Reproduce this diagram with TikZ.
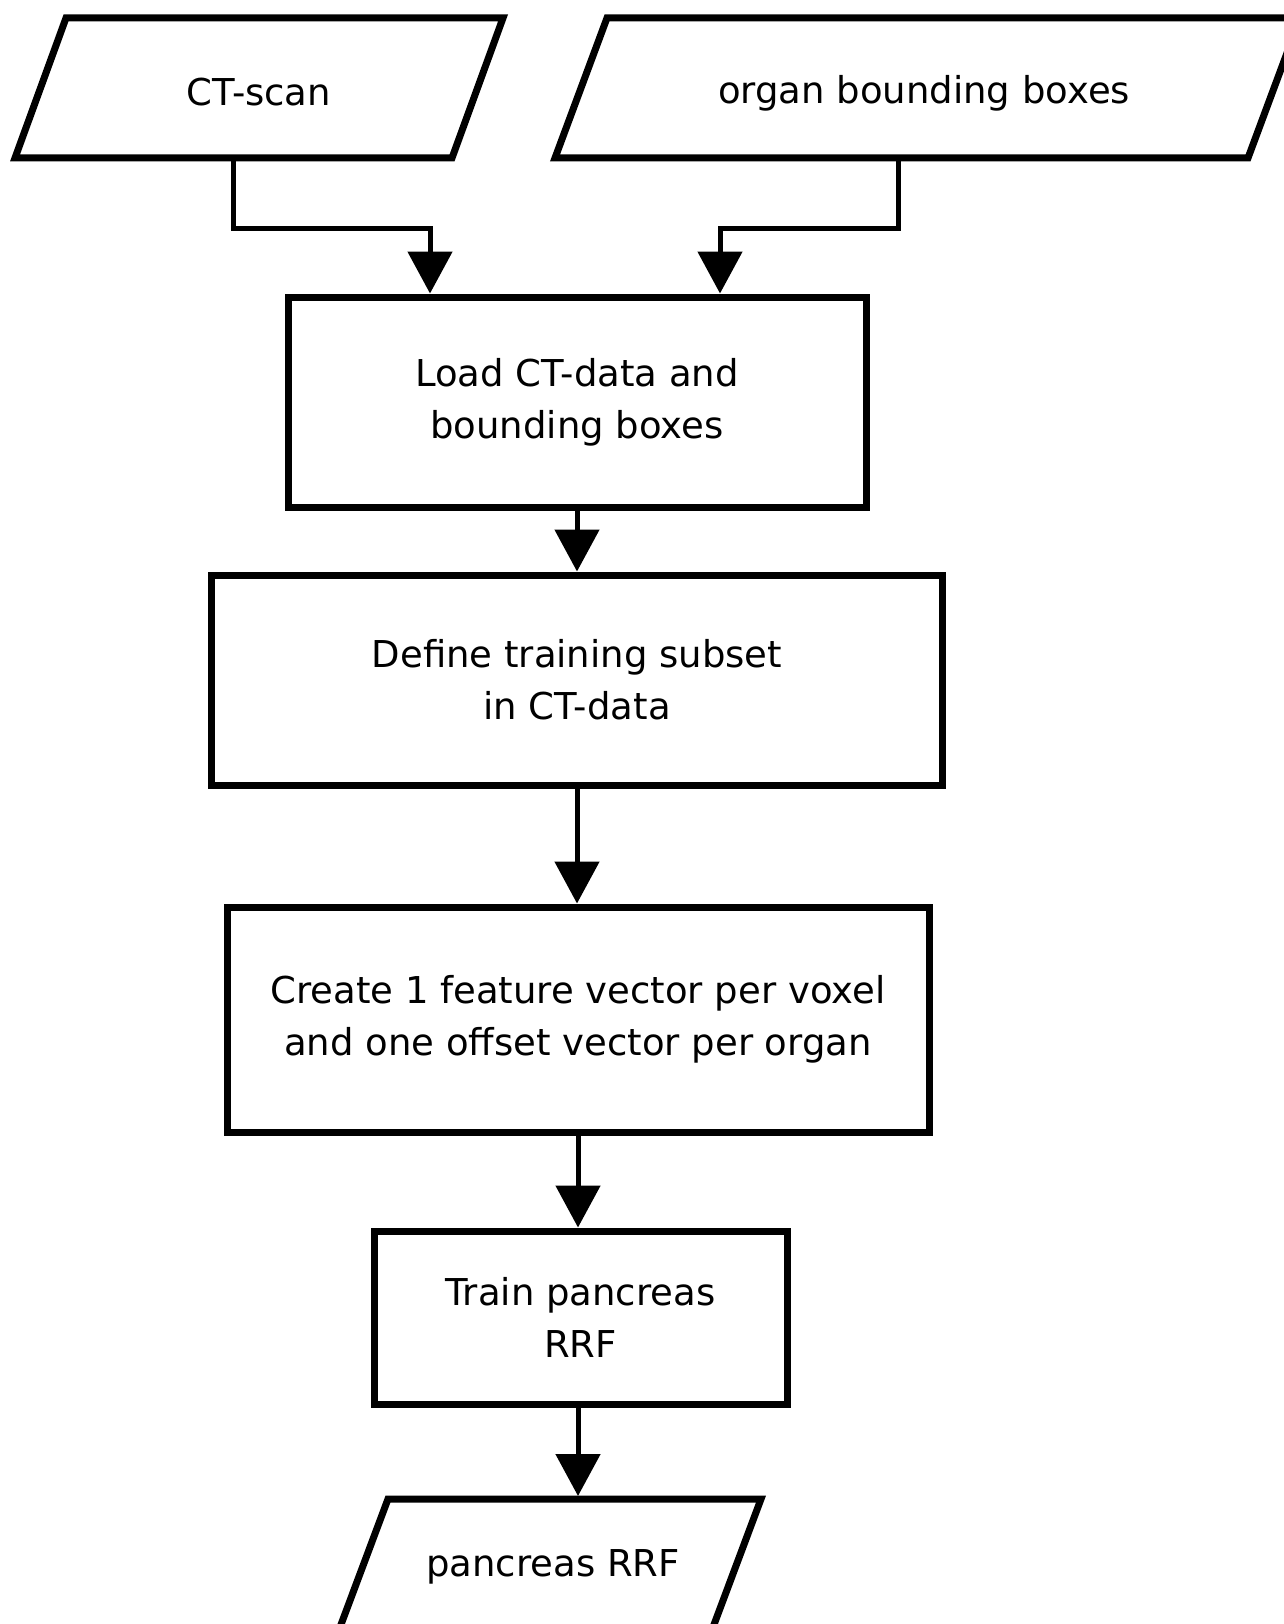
\documentclass[tikz,border=0pt]{standalone}
\usepackage{fontspec}
\setmainfont{DejaVu Sans}
\usetikzlibrary{arrows.meta,calc}
\begin{document}
\begin{tikzpicture}[x=1pt,y=-1pt,
  stepbox/.style={draw=black,line width=7pt,fill=white,rectangle,inner sep=0pt,align=center,
    font=\fontsize{37}{52}\selectfont},
  iobox/.style={draw=black,line width=7pt,fill=white,line join=miter},
  iotext/.style={inner sep=0pt,font=\fontsize{37}{52}\selectfont},
  conn/.style={draw=black,line width=5pt,-{Triangle[width=44pt,length=42pt]}}]
\useasboundingbox (0,0) rectangle (1283,1624);
\fill[white] (0,0) rectangle (1283,1624);

% input parallelograms
\draw[iobox] (66,18) -- (503,18) -- (452,158) -- (15,158) -- cycle;
\node[iotext] (ctscan) at (259,92) {CT-scan};
\coordinate (ctout) at (233,161);

\draw[iobox] (607,18) -- (1300,18) -- (1248,158) -- (555,158) -- cycle;
\node[iotext] (organ) at (924,93) {organ bounding boxes};
\coordinate (organout) at (898,161);

% process boxes
\node[stepbox,minimum width=578pt,minimum height=210pt] (load) at (577,402)
  {Load CT-data and\\bounding boxes};
\node[stepbox,minimum width=731pt,minimum height=210pt] (define) at (577,680)
  {Define training subset\\in CT-data};
\node[stepbox,minimum width=702pt,minimum height=225pt] (create) at (578,1019.5)
  {Create 1 feature vector per voxel\\and one offset vector per organ};
\node[stepbox,minimum width=413pt,minimum height=173pt] (train) at (580.5,1317.5)
  {Train pancreas\\RRF};

% output parallelogram
\draw[iobox] (388,1499) -- (761,1499) -- (697,1670) -- (324,1670) -- cycle;
\node[iotext] (rrf) at (553,1567) {pancreas RRF};
\coordinate (rrfin) at (578,1496);

% connectors
\coordinate (ctbend) at (233,228);
\coordinate (organbend) at (898,228);
\draw[conn] (ctout) -- (ctbend) -| (load.north -| 430,0);
\draw[conn] (organout) -- (organbend) -| (load.north -| 720,0);
\draw[conn] (load.south) -- (define.north -| load.south);
\draw[conn] (define.south -| load.south) -- (create.north -| load.south);
\draw[conn] (create.south) -- (train.north -| create.south);
\draw[conn] (train.south -| create.south) -- (rrfin);
\end{tikzpicture}
\end{document}
